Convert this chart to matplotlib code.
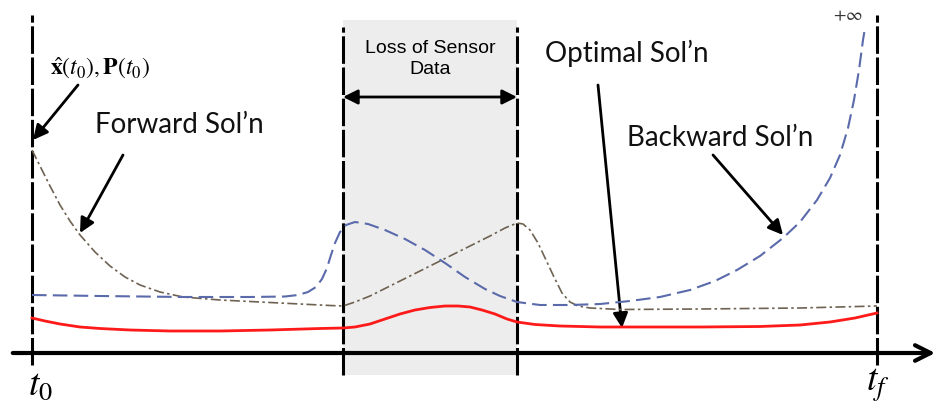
import numpy as np
import matplotlib.pyplot as plt
from matplotlib.patches import Rectangle

plt.rcParams['mathtext.fontset'] = 'stix'

# schematic units: x = time (left to right), y = height above the time axis
t_events = [32, 343, 517, 877]          # t0, loss start, loss end, tf
loss_span = (343, 517)

t_opt = [32, 45, 60, 80, 100, 130, 170, 220, 270, 320, 343, 355, 370, 385, 400,
         415, 430, 445, 458, 470, 482, 495, 507, 517, 535, 560, 600, 700, 760,
         800, 830, 855, 877]
opt = [35, 32, 29, 26, 24.5, 23, 22, 22, 23, 24.5, 25, 26, 29, 34, 39,
       43, 45.5, 47, 47, 46, 43, 39, 34, 31, 28.5, 27, 26, 26, 26.5,
       28, 31, 35, 40]

t_fwd = [32, 40, 50, 60, 70, 80, 95, 110, 125, 140, 160, 183, 220, 260, 300,
         330, 343, 355, 370, 390, 410, 430, 450, 470, 490, 505, 517, 523, 530,
         538, 546, 554, 562, 570, 578, 590, 620, 700, 800, 877]
fwd = [203, 187, 167, 148, 132, 118, 101, 87, 76, 68, 61, 56, 53, 51, 49,
       47.5, 47, 51, 57, 67, 77, 87, 97, 107, 117, 125, 130, 129, 123,
       110, 93, 76, 60, 51, 47, 45, 43.5, 44, 45, 47]

t_bwd = [32, 100, 183, 250, 285, 298, 308, 316, 322, 327, 331, 335, 340, 346, 355,
         368, 385, 405, 425, 445, 465, 485, 500, 517, 540, 570, 600, 630, 660,
         690, 715, 737, 760, 783, 800, 817, 830, 840, 848, 854, 859, 863, 865]
bwd = [58, 57, 56, 56, 56.5, 58, 61, 66, 74, 85, 98, 110, 121, 128, 131,
       129, 123, 114, 103, 90, 76, 64, 57, 51, 48, 48, 49, 52, 56,
       63, 72, 83, 97, 115, 131, 153, 175, 198, 225, 253, 283, 313, 325]

fig = plt.figure(figsize=(9.38, 4.08), dpi=100)
ax = fig.add_axes([0, 0, 1, 1])
ax.set_xlim(0, 938)
ax.set_ylim(-55, 353)
ax.axis('off')

ax.add_patch(Rectangle((loss_span[0], -22), loss_span[1] - loss_span[0], 355,
                       color='#ededed', lw=0, zorder=0))

for i, t in enumerate(t_events):
    bottom = -12 if i in (0, 3) else -22
    top = 338 if i in (0, 3) else 326
    ax.plot([t, t], [bottom, top], color='black', lw=2.2, dashes=(9, 1.2), zorder=3)

ax.annotate('', xy=(938, 0), xytext=(10, 0),
            arrowprops=dict(arrowstyle='->', lw=3, color='black', mutation_scale=28))

ax.plot(t_fwd, fwd, color='#6e6253', lw=1.2, dashes=(6, 2, 1.5, 2), zorder=4)
ax.plot(t_bwd, bwd, color='#5a6aaa', lw=1.5, dashes=(7, 3), zorder=4)
ax.plot(t_opt, opt, color='#ff1a1a', lw=2, zorder=5)

arw = dict(arrowstyle='-|>', lw=2, color='black', mutation_scale=22, shrinkA=0, shrinkB=0)
ax.annotate('', xy=(33, 213), xytext=(78, 268), arrowprops=arw)
ax.annotate('', xy=(80, 120), xytext=(123, 198), arrowprops=arw)
ax.annotate('', xy=(622, 25), xytext=(598, 268), arrowprops=arw)
ax.annotate('', xy=(783, 118), xytext=(713, 198), arrowprops=arw)
ax.annotate('', xy=(517, 256), xytext=(343, 256),
            arrowprops=dict(arrowstyle='<|-|>', lw=2, color='black', mutation_scale=22,
                            shrinkA=0, shrinkB=0))

lab = dict(fontsize=20, family='Lato', color='#111111', va='center', ha='left')
ax.text(95, 228, "Forward Sol\u2019n", **lab)
ax.text(545, 300, "Optimal Sol\u2019n", **lab)
ax.text(627, 215, "Backward Sol\u2019n", **lab)
ax.text(430, 294, "Loss of Sensor\nData", fontsize=14, family='Liberation Sans',
        ha='center', va='center', linespacing=1.3)
ax.text(50, 285, r'$\hat{\mathbf{x}}(t_0),\mathbf{P}(t_0)$', fontsize=17, va='center')
ax.text(848, 338, r'$+\infty$', fontsize=13, ha='center', va='center', color='#333333')
ax.text(40, -32, r'$t_0$', fontsize=27, ha='center', va='center')
ax.text(878, -32, r'$t_f$', fontsize=27, ha='center', va='center')

fig.savefig('out.png', dpi=100)
